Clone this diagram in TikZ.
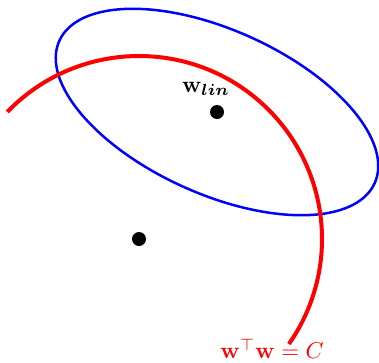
\documentclass[tikz,border=0pt]{standalone}
\usetikzlibrary{calc}
\begin{document}
\begin{tikzpicture}[x=1pt,y=-1pt,
  dot/.style={circle,fill=black,inner sep=0pt,minimum size=14pt},
  lbl/.style={scale=2.3,inner sep=0pt}]
\useasboundingbox (0,0) rectangle (379,362);
\node[dot] (wlin) at (217,112) {};
\node[dot] (orig) at (139,239) {};
\draw[blue,line width=2.5pt,rotate around={-24.3:(wlin)}] (wlin) ellipse [x radius=173,y radius=82];
\draw[red,line width=4pt] ($(orig)+(-136:183)$) arc[start angle=-136,end angle=35,radius=183];
\node[lbl,font=\boldmath] (wl) at (206,89) {$\mathbf{w}_{lin}$};
\node[lbl,red] (wc) at (272,349) {$\mathbf{w}^{\top}\mathbf{w}=C$};
\end{tikzpicture}
\end{document}
